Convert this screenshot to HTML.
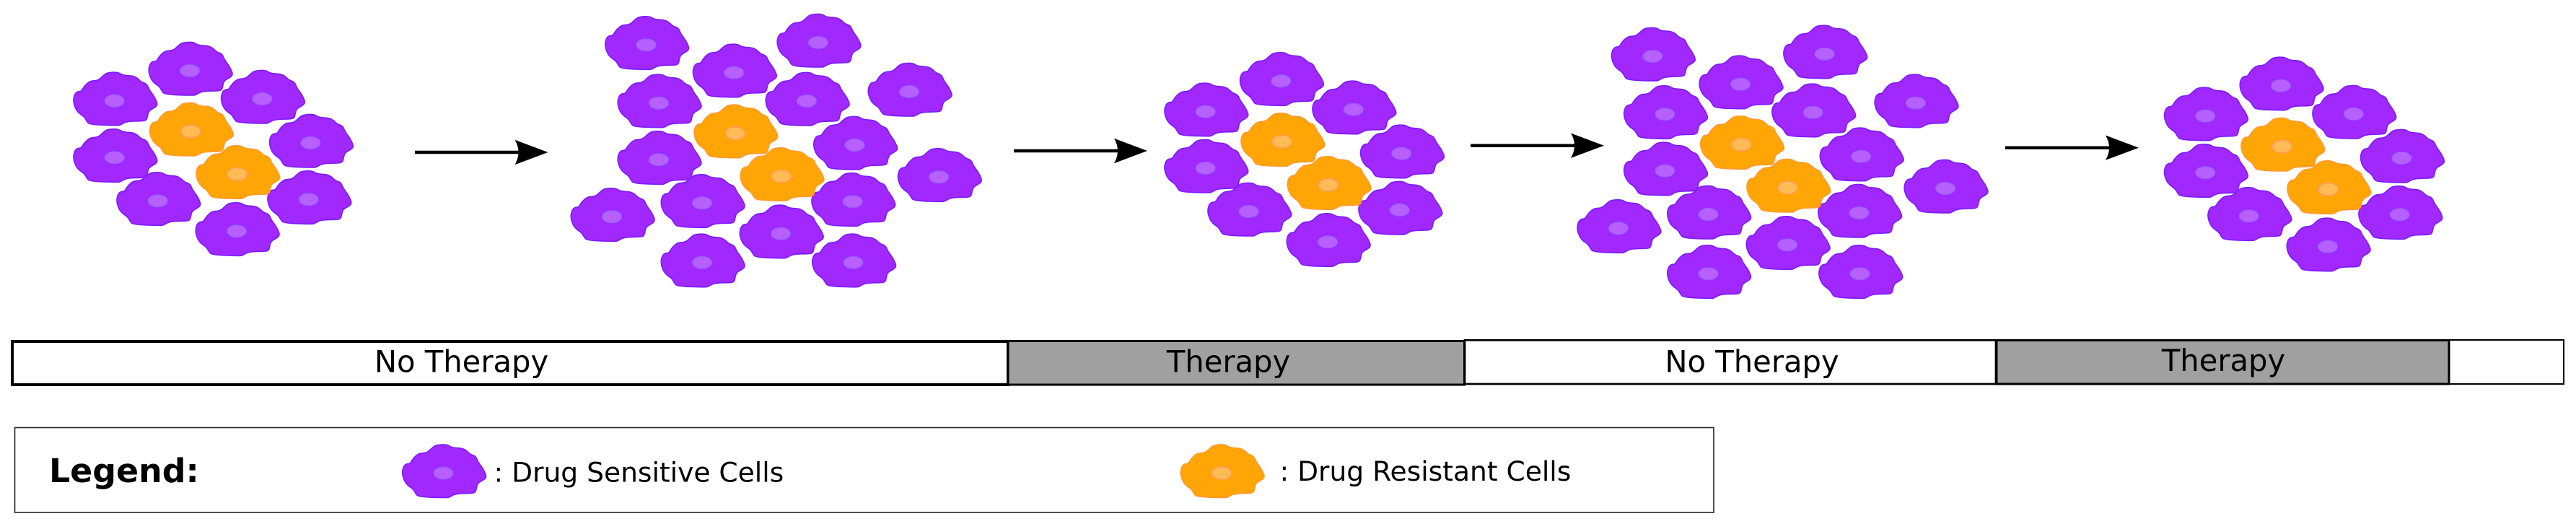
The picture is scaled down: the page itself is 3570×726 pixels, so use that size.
<!DOCTYPE html>
<html lang="en">
<head>
<meta charset="utf-8">
<title>Adaptive therapy diagram</title>
<style>
html,body{margin:0;padding:0;background:#fff;width:3570px;height:726px;overflow:hidden}
svg{display:block}
text{font-family:"DejaVu Sans","Liberation Sans",sans-serif;fill:#000}
</style>
</head>
<body>
<svg xmlns="http://www.w3.org/2000/svg" width="3570" height="726" viewBox="0 0 3570 726">
<defs>
<g id="cell-s">
<path class="outline" fill="#a128ff" stroke="#7a1cff" stroke-width="1.6" stroke-linejoin="round"/>
<ellipse cx="0" cy="0" rx="13.6" ry="8.6" fill="#b75fff" stroke="#8a5cff" stroke-width="1"/>
</g>
<g id="cell-r">
<path class="outline" fill="#ffa505" stroke="#ff9a35" stroke-width="1.6" stroke-linejoin="round"/>
<ellipse cx="0" cy="0" rx="13.6" ry="8.6" fill="#ffbc55" stroke="#ff9a70" stroke-width="1.2"/>
</g>
<g id="arrow-head"><path d="M0 0 L-46 -17.2 Q-36 0 -46 17.2 Z" fill="#000"/></g>
</defs>

<g>
<use href="#cell-s" x="263" y="98"/>
<use href="#cell-s" x="158.7" y="139.7"/>
<use href="#cell-s" x="363.3" y="137"/>
<use href="#cell-s" x="430.3" y="198"/>
<use href="#cell-s" x="158.7" y="218.3"/>
<use href="#cell-s" x="218.7" y="278.3"/>
<use href="#cell-s" x="427.7" y="276.3"/>
<use href="#cell-s" x="328" y="320.3"/>
<use href="#cell-r" x="264.3" y="182"/>
<use href="#cell-r" x="328.7" y="241.3"/>
</g>

<g>
<use href="#cell-s" x="895.5" y="62.3"/>
<use href="#cell-s" x="1133.9" y="59"/>
<use href="#cell-s" x="1017.2" y="100.7"/>
<use href="#cell-s" x="1260" y="127"/>
<use href="#cell-s" x="912.9" y="142.7"/>
<use href="#cell-s" x="1118" y="140"/>
<use href="#cell-s" x="1184.5" y="201"/>
<use href="#cell-s" x="912.9" y="221.3"/>
<use href="#cell-s" x="1301.2" y="245.3"/>
<use href="#cell-s" x="1181.7" y="279.3"/>
<use href="#cell-s" x="973" y="281.3"/>
<use href="#cell-s" x="848" y="300.3"/>
<use href="#cell-s" x="1082.1" y="323.7"/>
<use href="#cell-s" x="973" y="363.7"/>
<use href="#cell-s" x="1182.5" y="363.7"/>
<use href="#cell-r" x="1018.8" y="184.7"/>
<use href="#cell-r" x="1082.9" y="244.3"/>
</g>

<g>
<use href="#cell-s" x="1775.3" y="112.3"/>
<use href="#cell-s" x="1670.7" y="154.7"/>
<use href="#cell-s" x="1875.7" y="151.7"/>
<use href="#cell-s" x="1942.3" y="212.7"/>
<use href="#cell-s" x="1670.7" y="233"/>
<use href="#cell-s" x="1730.7" y="293"/>
<use href="#cell-s" x="1939.7" y="291"/>
<use href="#cell-s" x="1840" y="335.3"/>
<use href="#cell-r" x="1776.7" y="196.3"/>
<use href="#cell-r" x="1841" y="256.3"/>
</g>

<g>
<use href="#cell-s" x="2290.2" y="78"/>
<use href="#cell-s" x="2528.6" y="74.7"/>
<use href="#cell-s" x="2411.9" y="116.7"/>
<use href="#cell-s" x="2654.9" y="142.7"/>
<use href="#cell-s" x="2307.4" y="158.3"/>
<use href="#cell-s" x="2512.6" y="155.7"/>
<use href="#cell-s" x="2579.1" y="216.7"/>
<use href="#cell-s" x="2307.4" y="236.7"/>
<use href="#cell-s" x="2695.9" y="261"/>
<use href="#cell-s" x="2576.5" y="295"/>
<use href="#cell-s" x="2367.5" y="297"/>
<use href="#cell-s" x="2242.8" y="316.3"/>
<use href="#cell-s" x="2477" y="339.3"/>
<use href="#cell-s" x="2367.5" y="379.3"/>
<use href="#cell-s" x="2577.6" y="379.3"/>
<use href="#cell-r" x="2413.4" y="200.3"/>
<use href="#cell-r" x="2477.7" y="260"/>
</g>

<g>
<use href="#cell-s" x="3161" y="118.7"/>
<use href="#cell-s" x="3056.3" y="160.7"/>
<use href="#cell-s" x="3261.7" y="158"/>
<use href="#cell-s" x="3328.3" y="219"/>
<use href="#cell-s" x="3056.3" y="239.3"/>
<use href="#cell-s" x="3116.7" y="299.3"/>
<use href="#cell-s" x="3325.7" y="297.3"/>
<use href="#cell-s" x="3226" y="341.7"/>
<use href="#cell-r" x="3162.7" y="203"/>
<use href="#cell-r" x="3226.7" y="262.3"/>
</g>

<g>
<line x1="575" y1="211" x2="725" y2="211" stroke="#000" stroke-width="4.4"/>
<use href="#arrow-head" x="759.5" y="211"/>
</g>
<g>
<line x1="1405" y1="209" x2="1555" y2="209" stroke="#000" stroke-width="4.4"/>
<use href="#arrow-head" x="1590" y="209"/>
</g>
<g>
<line x1="2038" y1="201.7" x2="2188" y2="201.7" stroke="#000" stroke-width="4.4"/>
<use href="#arrow-head" x="2223" y="201.7"/>
</g>
<g>
<line x1="2779" y1="204.7" x2="2929" y2="204.7" stroke="#000" stroke-width="4.4"/>
<use href="#arrow-head" x="2964" y="204.7"/>
</g>

<g>
<rect x="17" y="473" width="1380" height="60" fill="#fff" stroke="#000" stroke-width="4"/>
<rect x="2030" y="471.3" width="736" height="60.7" fill="#fff" stroke="#000" stroke-width="2.7"/>
<rect x="3394" y="471" width="159" height="61" fill="#fff" stroke="#000" stroke-width="2"/>
<rect x="1397" y="472.5" width="632.5" height="60.5" fill="#a0a0a0" stroke="#000" stroke-width="3"/>
<rect x="2767" y="471.5" width="627" height="60.5" fill="#a0a0a0" stroke="#000" stroke-width="3"/>
<text x="639.5" y="515.7" font-size="41.7" text-anchor="middle">No Therapy</text>
<text x="1702.5" y="515.7" font-size="41.7" text-anchor="middle">Therapy</text>
<text x="2428" y="515.7" font-size="41.7" text-anchor="middle">No Therapy</text>
<text x="3081.5" y="514" font-size="41.7" text-anchor="middle">Therapy</text>
</g>

<g>
<rect x="20.5" y="592.5" width="2354.5" height="117.5" fill="#fff" stroke="#222" stroke-width="1.6"/>
<text x="68" y="668" font-size="45.8" font-weight="bold">Legend:</text>
<use href="#cell-s" x="614.5" y="655.5"/>
<text x="684.5" y="667.5" font-size="37.6">: Drug Sensitive Cells</text>
<use href="#cell-r" x="1693" y="655.5"/>
<text x="1773.5" y="666" font-size="37.6">: Drug Resistant Cells</text>
</g>
</svg>
<script>
var outlineX = [-57.3,-55.3,-51.3,-46.3,-43,-38.7,-33,-23,-15.3,-9.7,5.3,11.3,25.3,32,37,44.7,48,53.7,57,59.7,57,47.7,46,44.7,40.3,17,8.7,4.7,-34.7,-38.7,-42,-49.7,-54.7];
var outlineY = [-0.3,-9.3,-13,-13,-18.7,-23.7,-27.7,-28,-35.3,-39.3,-39.7,-35.3,-34.7,-31.3,-26,-23.7,-15.3,-8,-2,4.7,8.7,13.7,19.7,26.3,28,28.3,33.3,34.3,33,28,22,17,9.7];
var n = outlineX.length;
var d = 'M' + ((outlineX[n-1]+outlineX[0])/2).toFixed(2) + ' ' + ((outlineY[n-1]+outlineY[0])/2).toFixed(2);
for (var i = 0; i < n; i++) {
  var j = (i + 1) % n;
  d += ' Q' + outlineX[i] + ' ' + outlineY[i] + ' ' + ((outlineX[i]+outlineX[j])/2).toFixed(2) + ' ' + ((outlineY[i]+outlineY[j])/2).toFixed(2);
}
d += ' Z';
document.querySelectorAll('path.outline').forEach(function (p) { p.setAttribute('d', d); });
</script>
</body>
</html>
